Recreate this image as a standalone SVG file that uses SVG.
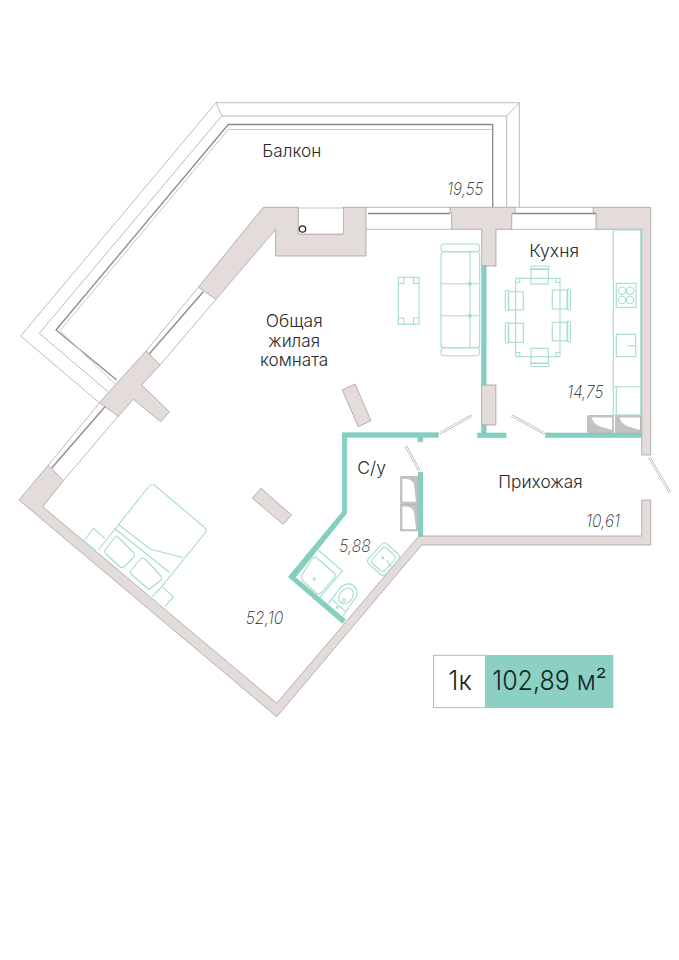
<svg xmlns="http://www.w3.org/2000/svg" width="679" height="960" viewBox="0 0 679 960">
<style>
.wall{fill:#e3dcda;stroke:#9a9694;stroke-width:.7;stroke-linejoin:miter}
.teal{fill:#85cfc0;stroke:#6fbfae;stroke-width:.5}
.thin{fill:none;stroke:#a9a9a9;stroke-width:.8}
.light{fill:none;stroke:#c9c9c9;stroke-width:1}
.dark{fill:none;stroke:#8a8a8a;stroke-width:1.3}
.door{fill:none;stroke:#b5b5b5;stroke-width:2.6;stroke-linecap:butt}
.doori{fill:none;stroke:#fff;stroke-width:1.2}
.f{fill:none;stroke:#a5dcd0;stroke-width:1.1}
.shaft{fill:#c4c2c0;stroke:#a8a6a4;stroke-width:.6}
.si{fill:#fff}
text{font-family:"Inter","Liberation Sans",sans-serif;font-weight:300;fill:#2a2a2a}
.n{font-size:17px;font-style:italic;fill:#1e1e1e;font-weight:200}
.r{font-size:17.5px}
.b{font-size:27px;fill:#13262a;font-weight:300}
</style>
<g id="balcony">
<path class="thin" d="M99.3 402.7 L20.7 336 L216 102.7 H519.3 V207"/>
<path class="thin" d="M108 391.7 L39.3 333.3 L221.7 116 H506.7 V207"/>
<path class="thin" d="M216 102.7 L221.7 116 M519.3 103 L506.7 116"/>
<path class="dark" d="M116.7 380 L56 330 L228.3 124.5 H492.7 V207"/>
<path class="light" d="M115 384 L60 330.7 L228.3 129.5 H492"/>
</g>
<g id="windows">
<path class="thin" d="M198.3 287.3 L146 351 M216 299.3 L160 365 M99.3 403.3 L48.3 465 M118.3 416 L63.3 480.7"/>
<path class="dark" d="M203.3 291.7 L148.3 355 M105 406.7 L51.7 468"/>
<path class="thin" d="M366 207.3 H450 M366 229.3 H452 M515 207.3 H594 M511 229.3 H596"/>
<path class="dark" d="M368 213.5 H450 M512 213.5 H596"/>
</g>
<g id="walls">
<path class="wall" d="M263.3 207.3 H298.3 V234 H343 V207.3 H366 V256 H275.7 V229.3 L216 299.3 L198.3 287.3 Z"/>
<rect x="298.3" y="208" width="45" height="26" fill="#fff" stroke="#a9a9a9" stroke-width=".7"/>
<circle cx="302.5" cy="229" r="3.2" fill="#fff" stroke="#222" stroke-width="1.2"/>
<path class="wall" d="M146 351 L160 365 L141.7 385 L169.3 411.7 L160.7 421.7 L133.3 399.3 L118.3 416.3 L99.3 402.7 Z"/>
<path class="wall" d="M48.3 465 L63.3 480.7 L42.7 506.7 L276.7 703.3 L418.3 536.7 L422.7 536 H641.7 V500 H650.7 V545 H421.7 L276.7 716.7 L19 500 Z"/>
<path class="wall" d="M450 207.3 H515 V213.3 H511.7 V229.3 H496 V266 H481.7 V229.3 H451.7 V213 H450 Z"/>
<path class="wall" d="M593.3 207.3 H650.7 V455 H641.7 V229.3 H596 V213 H593.3 Z"/>
<rect class="wall" x="481.7" y="385" width="14.2" height="40"/>
<path class="wall" d="M342.3 390 L355 384 L371 420.7 L358.3 426.7 Z"/>
<path class="wall" d="M252.3 498.3 L261 488.3 L291.7 515 L283.3 524.3 Z"/>
</g>
<g id="partitions">
<rect class="teal" x="481.7" y="266" width="4.4" height="119"/>
<rect class="teal" x="481.7" y="425" width="4.4" height="8"/>
<rect class="teal" x="477.7" y="433" width="28.3" height="4.5"/>
<path class="teal" d="M342.3 432.7 H438.3 V437.3 H422.7 V441.7 H418 V437.3 H346.7 V513.3 L295.5 577.3 L345.5 619.5 L342.5 623.5 L288.3 576.9 L342.3 511.7 Z"/>
<rect class="teal" x="545.7" y="433" width="96" height="4.4"/>
<rect class="teal" x="418.3" y="472.3" width="4.4" height="63.7"/>
</g>
<g id="doors">
<path class="door" d="M440 433.3 L471.7 415.7 M511.7 415.7 L544.3 433.3 M405.7 446 L419.3 470.7 M649.3 457.3 L670 492.7"/>
<path class="doori" d="M440 433.3 L471.7 415.7 M511.7 415.7 L544.3 433.3 M405.7 446 L419.3 470.7 M649.3 457.3 L670 492.7"/>
</g>
<g id="shafts">
<rect class="shaft" x="587.7" y="415.7" width="25.6" height="16.6"/>
<path class="si" d="M591.5 417.5 H612 V430 L600 426.5 Q593.5 424 591.5 417.5 Z"/>
<rect class="shaft" x="615.7" y="415.7" width="25.3" height="16.6"/>
<path class="si" d="M619.5 417.5 H640 V430 L628 426.5 Q621.5 424 619.5 417.5 Z"/>
<rect class="shaft" x="400.7" y="476.7" width="17" height="26.6"/>
<path class="si" d="M402.4 479 H408 Q413.5 481 414 485 L416 501.7 H402.4 Z"/>
<rect class="shaft" x="400.7" y="504.3" width="17" height="26.6"/>
<path class="si" d="M402.4 506.6 H408 Q413.5 508.6 414 512.6 L416 529.3 H402.4 Z"/>
</g>
<g id="kitchen">
<rect class="f" x="613.3" y="230" width="27.4" height="185"/>
<rect class="f" x="616.3" y="283.3" width="19.7" height="24"/>
<circle class="f" cx="622" cy="290.7" r="3.7"/><circle class="f" cx="630" cy="290.7" r="3.7"/>
<circle class="f" cx="622" cy="300" r="3.7"/><circle class="f" cx="630" cy="300" r="3.7"/>
<rect class="f" x="616.3" y="334.3" width="19.4" height="22.4"/>
<path class="f" d="M627.3 345.7 H635.7 M613.3 386.7 H640.7 M616.3 386.7 V415"/>
</g>
<g id="dining">
<rect class="f" x="515.7" y="278.3" width="44.3" height="78.4"/>
<path class="f" d="M515.7 282.5 h4 v-4 M560 282.5 h-4 v-4 M515.7 352.5 h4 v4 M560 352.5 h-4 v4"/>
<rect x="531" y="269" width="17.3" height="15" class="f"/><rect x="530.7" y="266" width="18.3" height="3.4" rx="1.5" class="f"/>
<rect x="531" y="348.3" width="17.3" height="15" class="f"/><rect x="530.7" y="363.3" width="18.3" height="3.2" rx="1.5" class="f"/>
<rect x="508.3" y="291.7" width="15" height="18.3" class="f"/><rect x="505.3" y="290" width="3.4" height="20.7" rx="1.5" class="f"/>
<rect x="508.3" y="323.3" width="15" height="19" class="f"/><rect x="505.3" y="322.3" width="3.4" height="21" rx="1.5" class="f"/>
<rect x="552.3" y="290" width="15.4" height="19" class="f"/><rect x="567" y="289" width="3.4" height="21" rx="1.5" class="f"/>
<rect x="552.3" y="322.3" width="15.4" height="18.4" class="f"/><rect x="567" y="321.3" width="3.4" height="21" rx="1.5" class="f"/>
</g>
<g id="sofa">
<rect class="f" x="441" y="244" width="38.7" height="7.7" rx="3.5"/>
<rect class="f" x="441" y="251.7" width="38.7" height="96" rx="3"/>
<rect class="f" x="441" y="347.7" width="38.7" height="8" rx="3.5"/>
<path class="f" d="M470 252 V347.7 M441 283.7 H479.7 M441 315.7 H479.7"/>
<circle class="f" cx="470" cy="283.7" r="1.5"/><circle class="f" cx="470" cy="315.7" r="1.5"/>
</g>
<g id="coffee-table">
<rect class="f" x="398.3" y="277.3" width="20.7" height="47"/>
<path class="f" d="M398.3 283.5 h5.5 v-6.2 M419 283.5 h-5.5 v-6.2 M398.3 318 h5.5 v6.3 M419 318 h-5.5 v6.3"/>
</g>
<g id="bed">
<path class="f" d="M98.3 550 L148.5 487 Q151.5 483 155.5 486 L204 527 Q207.5 530 205 533 L161.7 586.7"/>
<path class="f" d="M118.5 524.5 L150 549 L183.3 557.7 M114.3 528.3 L169.3 572.3"/>
<path class="f" stroke-linejoin="round" d="M115 537 Q116 535 118 537 L134 553 Q135 555 134 557 L124 567 Q122 568 120 567 L106 554 Q104 552 105 550 Z"/>
<path class="f" stroke-linejoin="round" d="M141 559 Q143 557 145 559 L161 576 Q162 578 161 580 L151 588 Q149 590 147 588 L131 574 Q130 572 131 570 Z"/>
<path class="f" d="M84 541 L93.3 528.3 L105 538.3 M95.7 551 L84 541 M161.7 586.7 L173.3 596.7 L165 606.7 M152.3 596.7 L161.7 586.7"/>
</g>
<g id="bathroom">
<path class="f" d="M318.3 550 L342.3 571 L320 597.3"/>
<path class="f" stroke-linejoin="round" d="M312 559 Q314.5 556 317 558 L334 573 Q337 576 334 578 L322 592 Q319 595 316 593 L303 581 Q300 578 302 575 Z"/>
<circle class="f" cx="314.3" cy="579" r="1.2"/>
<path class="f" d="M331.7 599.3 L341 587 Q347 582 353 585 Q359 590 356 597 L345.7 611.7"/>
<ellipse class="f" cx="346" cy="596" rx="8.5" ry="6.5" transform="rotate(-50 346 596)"/>
<circle class="f" cx="344" cy="600.3" r="1.5"/>
<path class="f" d="M328.3 603.3 L331.7 599.3 L345.7 611.7 L343.3 615.7"/>
<circle class="f" cx="337.3" cy="607.3" r="1"/>
<path class="f" stroke-linejoin="round" d="M381 545 Q384 541 387 544 L398 554 Q401 557 398 560 L386 574 Q383 577 380 574 L369 564 Q366 561 369 558 Z"/>
<path class="f" stroke-linejoin="round" d="M381.5 549 Q384 546 386.5 548 L394 555 Q396.5 557.5 394.5 560 L385 570.5 Q383 572.5 380.5 570.5 L373 564 Q370.5 561.5 372.5 559 Z"/>
<circle cx="382.7" cy="558" r="1.4" fill="#a5dcd0"/>
<path class="f" d="M386.7 560 L391 566.7"/>
</g>
<g id="labels">
<text class="r" x="262.3" y="156.7" textLength="59" lengthAdjust="spacingAndGlyphs">Балкон</text>
<text class="r" x="265.7" y="326.7" textLength="57" lengthAdjust="spacingAndGlyphs">Общая</text>
<text class="r" x="268.3" y="346.7" textLength="51.7" lengthAdjust="spacingAndGlyphs">жилая</text>
<text class="r" x="260" y="366" textLength="68.3" lengthAdjust="spacingAndGlyphs">комната</text>
<text class="r" x="529.3" y="256.7" textLength="49.7" lengthAdjust="spacingAndGlyphs">Кухня</text>
<text class="r" x="357.3" y="474" textLength="28.7" lengthAdjust="spacingAndGlyphs">С/у</text>
<text class="r" x="498.3" y="488.3" textLength="84.4" lengthAdjust="spacingAndGlyphs">Прихожая</text>
<text class="n" x="447.3" y="194.7" textLength="36" lengthAdjust="spacingAndGlyphs">19,55</text>
<text class="n" x="567.3" y="398.3" textLength="36" lengthAdjust="spacingAndGlyphs">14,75</text>
<text class="n" x="245.7" y="624.3" textLength="37.6" lengthAdjust="spacingAndGlyphs">52,10</text>
<text class="n" x="339.3" y="551.7" textLength="31.4" lengthAdjust="spacingAndGlyphs">5,88</text>
<text class="n" x="586" y="526.7" textLength="34" lengthAdjust="spacingAndGlyphs">10,61</text>
</g>
<g id="badge">
<rect x="433.5" y="655.3" width="52" height="52.4" fill="#fff" stroke="#8bd0c2" stroke-width="1"/>
<rect x="485" y="655" width="128.3" height="53" fill="#8bd0c2"/>
<text class="b" x="448.3" y="690" textLength="23.4" lengthAdjust="spacingAndGlyphs">1к</text>
<text class="b" x="492.3" y="690" textLength="114.4" lengthAdjust="spacingAndGlyphs">102,89 м²</text>
</g>
</svg>
